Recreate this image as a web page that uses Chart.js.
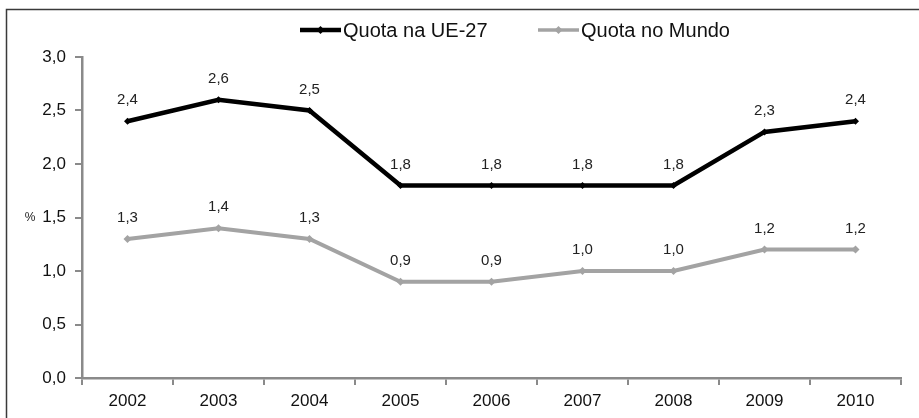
<!DOCTYPE html>
<html>
<head>
<meta charset="utf-8">
<script src="https://cdn.jsdelivr.net/npm/chart.js@4/dist/chart.umd.min.js"></script>
<style>
  html, body { margin: 0; padding: 0; background: #fff; }
  #wrap { width: 919px; height: 418px; position: relative; }
</style>
</head>
<body>
<div id="wrap"><canvas id="c" width="919" height="418"></canvas></div>
<script>
// Quota de mercado (%), 2002–2010
const years = ['2002', '2003', '2004', '2005', '2006', '2007', '2008', '2009', '2010'];
const quotaUE27 = [2.4, 2.6, 2.5, 1.8, 1.8, 1.8, 1.8, 2.3, 2.4];
const quotaMundo = [1.3, 1.4, 1.3, 0.9, 0.9, 1.0, 1.0, 1.2, 1.2];
const seriesNames = ['Quota na UE-27', 'Quota no Mundo'];
const yTicks = [0, 0.5, 1.0, 1.5, 2.0, 2.5, 3.0];

const FONT = '"Liberation Sans", Arial, sans-serif';
const AXIS = '#8a8a8a';
const BLACK = '#000000';
const GREY = '#a3a3a3';

const fmt = v => v.toFixed(1).replace('.', ',');

// Outer frame (left and top edges)
const framePlugin = {
  id: 'frame',
  beforeDraw(chart) {
    const ctx = chart.ctx;
    ctx.save();
    ctx.strokeStyle = '#3a3a3a';
    ctx.lineWidth = 1.5;
    ctx.beginPath();
    ctx.moveTo(6.5, chart.height);
    ctx.lineTo(6.5, 9.5);
    ctx.lineTo(chart.width, 9.5);
    ctx.stroke();
    ctx.restore();
  }
};

// Value labels above each point
const valueLabels = {
  id: 'valueLabels',
  afterDatasetsDraw(chart) {
    const ctx = chart.ctx;
    ctx.save();
    ctx.font = '15px ' + FONT;
    ctx.fillStyle = '#222';
    ctx.textAlign = 'center';
    ctx.textBaseline = 'middle';
    chart.data.datasets.forEach((ds, i) => {
      chart.getDatasetMeta(i).data.forEach((pt, j) => {
        ctx.fillText(fmt(ds.data[j]), pt.x, pt.y - 21);
      });
    });
    ctx.restore();
  }
};

// Unit marker beside the y axis
const unitLabel = {
  id: 'unitLabel',
  afterDraw(chart) {
    const y = chart.scales.y.getPixelForValue(1.5);
    const ctx = chart.ctx;
    ctx.save();
    ctx.font = '12px ' + FONT;
    ctx.fillStyle = '#222';
    ctx.textAlign = 'center';
    ctx.textBaseline = 'middle';
    ctx.fillText('%', 30, y);
    ctx.restore();
  }
};

// Legend row: line sample with diamond, then the series name
const legendRow = {
  id: 'legendRow',
  afterDraw(chart) {
    const ctx = chart.ctx;
    const items = [
      { x: 300, color: BLACK, width: 4.5, name: seriesNames[0] },
      { x: 538, color: GREY, width: 3.5, name: seriesNames[1] }
    ];
    const y = 30;
    ctx.save();
    items.forEach(it => {
      ctx.strokeStyle = it.color;
      ctx.lineWidth = it.width;
      ctx.beginPath();
      ctx.moveTo(it.x, y);
      ctx.lineTo(it.x + 41, y);
      ctx.stroke();
      ctx.fillStyle = it.color;
      ctx.beginPath();
      const cx = it.x + 20.5, r = 4;
      ctx.moveTo(cx, y - r);
      ctx.lineTo(cx + r, y);
      ctx.lineTo(cx, y + r);
      ctx.lineTo(cx - r, y);
      ctx.closePath();
      ctx.fill();
      ctx.font = '20px ' + FONT;
      ctx.fillStyle = '#111';
      ctx.textAlign = 'left';
      ctx.textBaseline = 'middle';
      ctx.fillText(it.name, it.x + 43, y + 1);
    });
    ctx.restore();
  }
};

new Chart(document.getElementById('c'), {
  type: 'line',
  data: {
    labels: years,
    datasets: [
      {
        label: seriesNames[0],
        data: quotaUE27,
        borderColor: BLACK,
        backgroundColor: BLACK,
        borderWidth: 4.5,
        pointStyle: 'rectRot',
        pointRadius: 3.5,
        pointBorderWidth: 0,
        tension: 0
      },
      {
        label: seriesNames[1],
        data: quotaMundo,
        borderColor: GREY,
        backgroundColor: GREY,
        borderWidth: 4,
        pointStyle: 'rectRot',
        pointRadius: 4,
        pointBorderWidth: 0,
        tension: 0
      }
    ]
  },
  options: {
    responsive: false,
    animation: false,
    devicePixelRatio: 1,
    layout: { padding: { top: 57, right: 18, left: 0, bottom: 0 } },
    plugins: {
      legend: { display: false },
      tooltip: { enabled: false }
    },
    scales: {
      x: {
        offset: true,
        grid: {
          offset: true,
          drawOnChartArea: false,
          drawTicks: true,
          tickLength: 7,
          color: AXIS,
          lineWidth: 2
        },
        border: { color: AXIS, width: 2.5 },
        ticks: {
          font: { family: FONT, size: 17 },
          color: '#111',
          padding: 6,
          maxRotation: 0
        },
        afterFit(scale) { scale.height = 40; }
      },
      y: {
        min: 0,
        max: 3,
        afterBuildTicks(scale) { scale.ticks = yTicks.map(v => ({ value: v })); },
        grid: {
          drawOnChartArea: false,
          drawTicks: true,
          tickLength: 7,
          color: AXIS,
          lineWidth: 2
        },
        border: { color: AXIS, width: 2.5 },
        ticks: {
          font: { family: FONT, size: 17 },
          color: '#111',
          padding: 9,
          callback: v => fmt(v)
        },
        afterFit(scale) { scale.width = 82; }
      }
    }
  },
  plugins: [framePlugin, valueLabels, unitLabel, legendRow]
});
</script>
</body>
</html>
